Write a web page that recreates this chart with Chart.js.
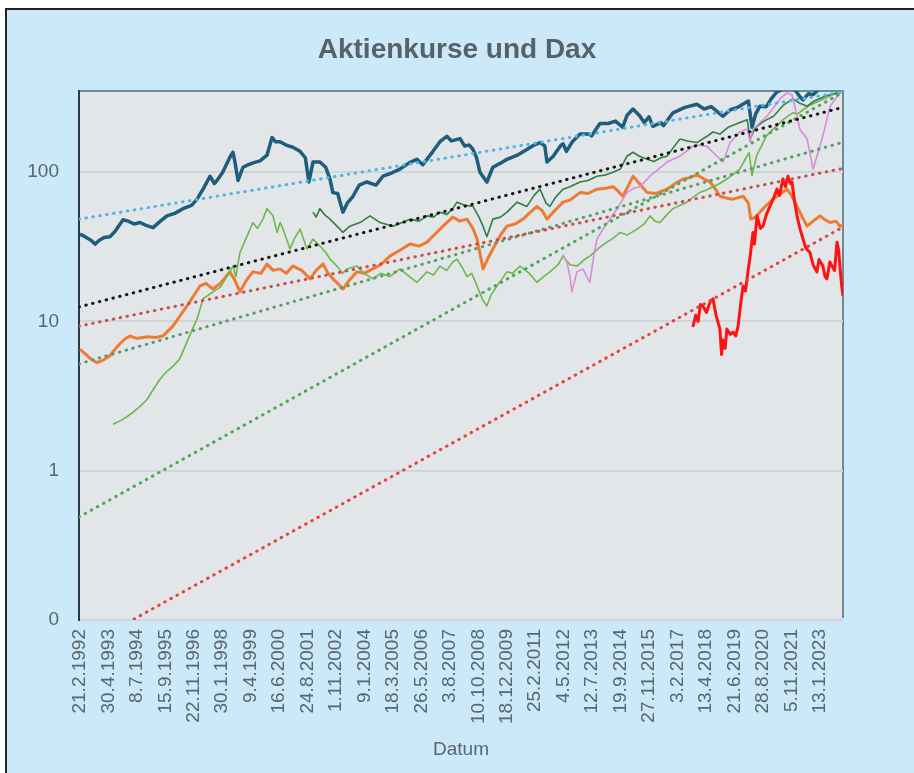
<!DOCTYPE html>
<html>
<head>
<meta charset="utf-8">
<script src="https://cdn.jsdelivr.net/npm/chart.js@4.4.1/dist/chart.umd.min.js"></script>
<style>
html,body{margin:0;padding:0;background:#ffffff;}
canvas{display:block;}
</style>
</head>
<body>
<canvas id="c" width="914" height="773"></canvas>
<script>
// ---------- data (decimal year, value) ----------
const tickLabels = ["21.2.1992","30.4.1993","8.7.1994","15.9.1995","22.11.1996","30.1.1998","9.4.1999","16.6.2000","24.8.2001","1.11.2002","9.1.2004","18.3.2005","26.5.2006","3.8.2007","10.10.2008","18.12.2009","25.2.2011","4.5.2012","12.7.2013","19.9.2014","27.11.2015","3.2.2017","13.4.2018","21.6.2019","28.8.2020","5.11.2021","13.1.2023"];
const yTickValues = [0.1, 1, 10, 100];

const seriesDax = [[1992.14,38.5],[1992.35,37],[1992.6,35],[1992.77,33],[1992.95,35],[1993.15,36.5],[1993.39,37],[1993.6,40],[1993.94,48],[1994.15,47],[1994.4,45],[1994.65,46],[1994.9,44],[1995.19,42.5],[1995.5,47],[1995.77,51],[1996.1,53],[1996.44,57],[1996.8,60],[1997.03,66],[1997.3,78],[1997.57,94],[1997.75,84],[1997.86,88],[1998.1,100],[1998.4,126],[1998.53,136],[1998.62,115],[1998.74,88],[1998.95,108],[1999.15,112],[1999.4,116],[1999.66,119],[1999.95,130],[2000.16,171],[2000.3,160],[2000.49,160],[2000.75,152],[2001.03,147],[2001.33,138],[2001.55,125],[2001.7,86],[2001.87,117],[2002.16,117],[2002.4,108],[2002.58,90],[2002.7,73],[2002.9,72],[2003.12,54],[2003.3,62],[2003.54,69],[2003.8,82],[2004.12,86],[2004.5,82],[2004.79,94],[2005.1,98],[2005.5,105],[2005.9,116],[2006.21,122],[2006.45,112],[2006.88,138],[2007.17,160],[2007.46,174],[2007.65,162],[2008.01,168],[2008.2,150],[2008.4,152],[2008.55,142],[2008.7,125],[2008.84,100],[2009.13,86],[2009.38,108],[2009.7,115],[2009.97,122],[2010.4,130],[2010.8,142],[2011.1,152],[2011.35,158],[2011.55,150],[2011.64,117],[2011.9,128],[2012.2,150],[2012.31,155],[2012.45,138],[2012.7,160],[2013.02,180],[2013.4,180],[2013.5,175],[2013.85,212],[2014.2,212],[2014.5,220],[2014.8,200],[2014.98,240],[2015.23,265],[2015.5,240],[2015.7,215],[2015.9,235],[2016.06,203],[2016.4,215],[2016.5,205],[2016.9,250],[2017.4,272],[2017.9,285],[2018.2,265],[2018.5,275],[2018.99,237],[2019.3,262],[2019.6,272],[2020.05,300],[2020.2,200],[2020.35,245],[2020.53,277],[2020.8,275],[2021.0,310],[2021.24,345],[2021.5,360],[2021.8,362],[2022.0,355],[2022.2,320],[2022.33,305],[2022.55,335],[2022.75,330],[2023.0,360],[2023.3,365],[2023.6,370],[2023.8,360],[2024.0,365]];

const seriesOrange = [[1992.14,6.5],[1992.4,6.0],[1992.6,5.6],[1992.85,5.3],[1993.1,5.5],[1993.39,5.9],[1993.7,6.8],[1994.0,7.6],[1994.23,8.0],[1994.5,7.7],[1994.94,7.9],[1995.3,7.8],[1995.61,8.0],[1996.02,9.3],[1996.3,10.8],[1996.61,12.7],[1996.9,15],[1997.15,17.3],[1997.4,18],[1997.69,16.5],[1998.0,18],[1998.4,21.5],[1998.6,19],[1998.82,15.8],[1999.1,19],[1999.36,21.5],[1999.7,21],[1999.95,24.3],[2000.2,22],[2000.49,22.5],[2000.75,21],[2001.03,23.5],[2001.4,22],[2001.75,19.3],[2002.0,22],[2002.29,24.3],[2002.5,21],[2002.7,19.3],[2002.9,18],[2003.12,16.5],[2003.4,19],[2003.71,21.5],[2004.0,21],[2004.37,22.5],[2004.7,24],[2005.08,27.4],[2005.5,30],[2005.92,33],[2006.3,32],[2006.63,34],[2007.0,39],[2007.3,43.5],[2007.71,50],[2008.0,47],[2008.3,48.5],[2008.55,42],[2008.72,35.7],[2008.97,22.5],[2009.15,26],[2009.38,30.6],[2009.7,38],[2009.97,43.5],[2010.3,45],[2010.64,48.5],[2010.95,54],[2011.22,59],[2011.45,55],[2011.64,48.5],[2011.95,55],[2012.31,63],[2012.6,65],[2013.02,73],[2013.35,72],[2013.73,77],[2014.1,78],[2014.4,80],[2014.6,75],[2014.81,69],[2015.05,82],[2015.23,94],[2015.5,84],[2015.82,73],[2016.2,72],[2016.65,77],[2017.0,84],[2017.32,90],[2017.6,92],[2017.9,96],[2018.2,90],[2018.45,86],[2018.65,78],[2018.86,69],[2019.15,67],[2019.41,66],[2019.83,69],[2020.05,62],[2020.15,48.5],[2020.35,50],[2020.53,54],[2020.8,60],[2021.08,66],[2021.4,72],[2021.66,77],[2021.85,70],[2022.08,59],[2022.3,50],[2022.5,43.5],[2022.75,47],[2023.04,51],[2023.25,48],[2023.46,46],[2023.7,47],[2023.87,43.5],[2024.0,44]];

const seriesLightGreen = [[1993.52,2.05],[1993.8,2.15],[1994.1,2.3],[1994.4,2.5],[1994.65,2.7],[1994.94,3.0],[1995.2,3.5],[1995.48,4.1],[1995.75,4.6],[1996.02,5.0],[1996.3,5.6],[1996.61,7.3],[1996.85,9],[1997.03,10.4],[1997.28,14.2],[1997.5,15],[1997.69,15.8],[1998.0,17],[1998.28,20.1],[1998.53,23.5],[1998.65,20],[1998.82,29],[1999.11,37],[1999.36,46],[1999.55,42],[1999.78,48.5],[1999.95,57],[2000.2,51],[2000.37,39.5],[2000.5,46],[2000.62,41.6],[2000.91,30.6],[2001.1,36],[2001.33,41.6],[2001.62,30.6],[2001.87,35.7],[2002.16,32],[2002.4,29],[2002.58,26.2],[2002.87,23.5],[2003.1,21],[2003.29,22.5],[2003.71,23.5],[2004.0,21],[2004.37,19.3],[2004.7,21],[2005.08,20],[2005.5,22.5],[2005.9,20],[2006.21,18.3],[2006.63,21.5],[2006.9,20.5],[2007.17,23.5],[2007.45,22],[2007.71,25],[2007.88,26.2],[2008.1,23],[2008.3,20],[2008.5,21],[2008.72,17.3],[2008.95,14],[2009.13,12.7],[2009.3,15],[2009.55,17.3],[2009.97,21.5],[2010.2,21],[2010.51,23.5],[2010.9,21],[2011.22,18.3],[2011.5,20],[2011.76,21.5],[2012.1,24],[2012.31,27.4],[2012.6,24],[2012.89,23.5],[2013.2,26],[2013.43,27.4],[2013.8,31],[2014.14,34],[2014.4,36],[2014.69,39.5],[2015.0,38],[2015.4,41.6],[2015.7,45],[2015.94,51],[2016.15,47],[2016.36,46],[2016.65,52],[2016.9,57],[2017.2,60],[2017.48,63],[2017.75,68],[2018.01,73],[2018.3,76],[2018.57,80],[2018.85,84],[2019.15,90],[2019.45,98],[2019.69,105],[2019.95,125],[2020.08,135],[2020.2,95],[2020.4,130],[2020.6,150],[2020.8,175],[2021.1,195],[2021.5,225],[2021.9,250],[2022.1,245],[2022.3,260],[2022.6,280],[2023.0,300],[2023.4,320],[2023.8,345],[2024.0,350]];

const seriesDarkGreen = [[2001.87,54],[2002.0,50],[2002.16,57],[2002.35,52],[2002.58,48.5],[2002.87,43.5],[2003.12,39.5],[2003.41,43.5],[2003.83,46],[2004.25,51],[2004.67,46],[2005.21,43.5],[2005.6,46],[2005.92,48.5],[2006.3,47],[2006.63,51],[2006.9,50],[2007.17,54],[2007.45,52],[2007.71,57],[2007.88,63],[2008.2,60],[2008.55,59],[2008.8,50],[2008.97,43.5],[2009.13,37],[2009.38,48.5],[2009.7,50],[2009.97,54],[2010.39,63],[2010.8,59],[2011.1,70],[2011.35,77],[2011.6,62],[2011.76,59],[2012.0,68],[2012.31,77],[2012.6,80],[2013.02,86],[2013.35,88],[2013.73,94],[2014.1,96],[2014.4,100],[2014.7,105],[2014.98,128],[2015.23,136],[2015.5,128],[2015.82,122],[2016.1,118],[2016.4,125],[2016.65,128],[2016.9,145],[2017.19,167],[2017.5,162],[2017.9,158],[2018.32,174],[2018.57,186],[2018.86,180],[2019.2,200],[2019.7,215],[2020.0,225],[2020.12,167],[2020.35,200],[2020.7,220],[2021.1,237],[2021.5,280],[2021.9,310],[2022.2,290],[2022.5,277],[2022.8,300],[2023.3,325],[2023.6,335],[2023.87,340],[2024.0,350]];

const seriesPink = [[2012.3,28],[2012.47,25],[2012.6,20],[2012.68,15.8],[2012.89,21.5],[2013.14,22.5],[2013.3,20],[2013.43,18.3],[2013.6,28],[2013.73,35.7],[2013.98,41.6],[2014.27,48.5],[2014.6,58],[2014.98,73],[2015.25,78],[2015.52,80],[2015.94,94],[2016.3,105],[2016.65,117],[2017.19,128],[2017.73,149],[2018.0,152],[2018.32,149],[2018.74,128],[2018.99,117],[2019.29,158],[2019.69,186],[2020.0,195],[2020.12,160],[2020.24,194],[2020.82,237],[2021.1,270],[2021.37,310],[2021.66,340],[2021.87,330],[2022.05,250],[2022.2,194],[2022.5,167],[2022.75,105],[2023.04,149],[2023.25,200],[2023.46,277],[2023.87,340],[2024.0,350]];

const seriesRed = [[2017.73,9.2],[2017.85,11],[2017.95,10],[2018.05,13],[2018.15,12.7],[2018.3,11.5],[2018.45,13.5],[2018.57,14.2],[2018.7,11],[2018.86,8.9],[2018.93,6.0],[2018.99,7.5],[2019.08,6.6],[2019.15,8.9],[2019.3,8.2],[2019.41,8.5],[2019.52,8.0],[2019.62,9.3],[2019.75,14],[2019.83,17.3],[2019.93,16],[2020.03,21.5],[2020.12,27],[2020.24,39.5],[2020.3,33],[2020.41,51],[2020.55,42],[2020.66,43.5],[2020.8,52],[2020.95,59],[2021.1,67],[2021.24,77],[2021.35,70],[2021.49,90],[2021.6,80],[2021.7,94],[2021.8,84],[2021.87,86],[2021.97,65],[2022.08,51],[2022.2,42],[2022.33,35.7],[2022.45,31],[2022.62,29],[2022.75,24],[2022.91,21.5],[2023.0,26],[2023.16,23.5],[2023.25,20],[2023.33,19.3],[2023.45,25],[2023.54,23.5],[2023.65,22],[2023.75,34],[2023.82,30],[2023.87,23.5],[2023.95,17],[2024.0,14.8]];

// exponential trend lines: values at start and end of the date range
const trendYears = [1992.10, 2024.0];
const trendDax = [48.5, 345];
const trendBlack = [12.5, 272];
const trendOrange = [9.3, 106];
const trendGreenFlat = [5.2, 159];
const trendGreenSteep = [0.49, 343];
const trendRed = [0.0635, 42.9];

// ---------- helpers ----------
function toYear(label) {
  const [d, m, y] = label.split('.').map(Number);
  const start = Date.UTC(y, 0, 1), end = Date.UTC(y + 1, 0, 1);
  return y + (Date.UTC(y, m - 1, d) - start) / (end - start);
}
const pts = arr => arr.map(([x, y]) => ({x, y}));
const trendPts = vals => trendYears.map((x, i) => ({x, y: vals[i]}));

const FONT = "'Liberation Sans', Arial, sans-serif";
const TXT = '#5a666e';

function lineDs(label, data, color, width, order) {
  return {label, data: pts(data), borderColor: color, borderWidth: width, pointRadius: 0,
    tension: 0, fill: false, order, borderJoinStyle: 'round'};
}
function trendDs(label, vals, color) {
  return {label, data: trendPts(vals), borderColor: color, borderWidth: 3, pointRadius: 0,
    borderDash: [0.5, 6.5], borderCapStyle: 'round', fill: false, order: 0};
}

const bgPlugin = {
  id: 'bg',
  beforeDraw(chart) {
    const {ctx, chartArea: a, width, height} = chart;
    ctx.save();
    ctx.fillStyle = '#ffffff';
    ctx.fillRect(0, 0, width, height);
    ctx.fillStyle = '#cbe9f8';
    ctx.fillRect(6, 8, width - 6, height - 8);
    ctx.fillStyle = '#1e2529';
    ctx.fillRect(5, 8, 2, height - 8);
    ctx.fillRect(5, 8, width - 5, 2);
    ctx.fillStyle = '#e3e6e8';
    ctx.fillRect(a.left, a.top, a.right - a.left, a.bottom - a.top);
    ctx.strokeStyle = '#6f8994';
    ctx.lineWidth = 2;
    ctx.beginPath();
    ctx.moveTo(a.left, a.top);
    ctx.lineTo(a.right, a.top);
    ctx.lineTo(a.right, a.bottom - 2);
    ctx.stroke();
    ctx.restore();
  }
};

new Chart(document.getElementById('c'), {
  type: 'line',
  data: {
    datasets: [
      trendDs('Trend Dax', trendDax, '#4db6e6'),
      trendDs('Trend 2', trendBlack, '#141414'),
      trendDs('Trend 3', trendOrange, '#c94f4c'),
      trendDs('Trend 4', trendGreenFlat, '#5a9d6c'),
      trendDs('Trend 5', trendGreenSteep, '#4fa856'),
      trendDs('Trend 6', trendRed, '#e8423f'),
      lineDs('Aktie 6', seriesRed, '#ff1212', 3, 1),
      lineDs('Aktie 5', seriesPink, '#d98ad8', 1.6, 2),
      lineDs('Aktie 4', seriesDarkGreen, '#2f7f45', 1.6, 3),
      lineDs('Aktie 3', seriesLightGreen, '#6cb84c', 1.6, 4),
      lineDs('Aktie 2', seriesOrange, '#ee7b33', 3, 5),
      lineDs('Dax', seriesDax, '#1f5d7c', 3.5, 6)
    ]
  },
  options: {
    responsive: false,
    devicePixelRatio: 1,
    animation: false,
    layout: {padding: {left: 0, right: 0, top: 0, bottom: 0}},
    plugins: {
      legend: {display: false},
      tooltip: {enabled: false},
      title: {
        display: true,
        text: 'Aktienkurse und Dax',
        color: '#56626a',
        font: {family: FONT, size: 28, weight: 'bold', lineHeight: 1.2},
        padding: {top: 33, bottom: 24.4}
      }
    },
    scales: {
      x: {
        type: 'linear',
        min: 1992.10,
        max: 2024.0,
        afterBuildTicks: s => { s.ticks = tickLabels.map(l => ({value: toYear(l)})); },
        afterFit: s => { s.height = 153; },
        grid: {display: false, drawTicks: false},
        border: {display: false},
        ticks: {
          autoSkip: false, minRotation: 90, maxRotation: 90, padding: 9,
          color: TXT, font: {family: FONT, size: 19},
          callback: (v, i) => tickLabels[i]
        },
        title: {display: true, text: 'Datum', color: TXT,
          font: {family: FONT, size: 19, lineHeight: 1.2}, padding: {top: 0, bottom: 12}}
      },
      y: {
        type: 'logarithmic',
        min: 0.1,
        max: 350,
        afterBuildTicks: s => { s.ticks = yTickValues.map(v => ({value: v})); },
        afterFit: s => { s.width = 79; },
        grid: {color: '#d0d5d7', lineWidth: 2, drawTicks: false},
        border: {display: true, color: '#2b3a42', width: 2},
        ticks: {padding: 20, color: TXT, font: {family: FONT, size: 19},
          callback: v => Number(v).toFixed(0)}
      },
      spacer: {
        type: 'linear',
        position: 'right',
        display: true,
        afterFit: s => { s.width = 71; },
        grid: {display: false, drawTicks: false},
        border: {display: false},
        ticks: {display: false}
      }
    }
  },
  plugins: [bgPlugin]
});
</script>
</body>
</html>
